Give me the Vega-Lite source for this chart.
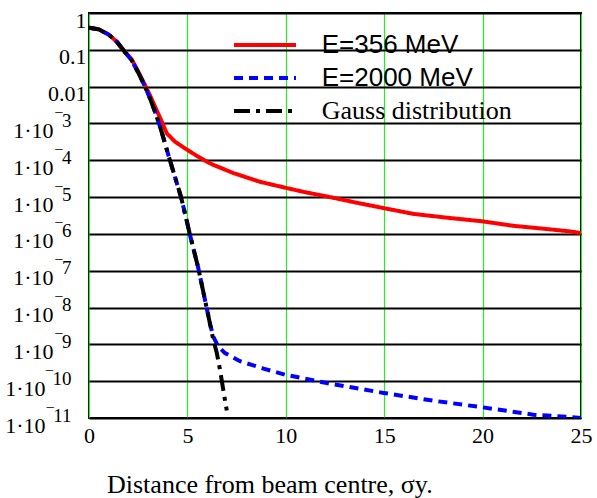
{
  "$schema": "https://vega.github.io/schema/vega-lite/v6.json",
  "width": 492,
  "height": 405,
  "autosize": {"type": "none"},
  "padding": {"left": 89, "top": 13, "right": 16, "bottom": 80},
  "background": "white",
  "config": {"view": {"stroke": "black", "strokeWidth": 2}, "font": "Liberation Serif"},
  "data": {"values": [
    {"series": "E=356 MeV", "x": 0, "y": 0.40},
    {"series": "E=356 MeV", "x": 0.5, "y": 0.36},
    {"series": "E=356 MeV", "x": 1.0, "y": 0.26},
    {"series": "E=356 MeV", "x": 1.41, "y": 0.166},
    {"series": "E=356 MeV", "x": 1.8, "y": 0.092},
    {"series": "E=356 MeV", "x": 2.17, "y": 0.055},
    {"series": "E=356 MeV", "x": 2.5, "y": 0.026},
    {"series": "E=356 MeV", "x": 2.81, "y": 0.012},
    {"series": "E=356 MeV", "x": 3.1, "y": 0.0058},
    {"series": "E=356 MeV", "x": 3.35, "y": 0.0029},
    {"series": "E=356 MeV", "x": 3.69, "y": 0.00115},
    {"series": "E=356 MeV", "x": 3.95, "y": 0.00054},
    {"series": "E=356 MeV", "x": 4.37, "y": 0.00032},
    {"series": "E=356 MeV", "x": 4.88, "y": 0.00021},
    {"series": "E=356 MeV", "x": 5.4, "y": 0.00014},
    {"series": "E=356 MeV", "x": 5.98, "y": 0.000092},
    {"series": "E=356 MeV", "x": 6.32, "y": 0.000075},
    {"series": "E=356 MeV", "x": 7.33, "y": 0.000045},
    {"series": "E=356 MeV", "x": 8.69, "y": 0.000026},
    {"series": "E=356 MeV", "x": 9.97, "y": 0.000018},
    {"series": "E=356 MeV", "x": 11.0, "y": 0.0000135},
    {"series": "E=356 MeV", "x": 12.25, "y": 0.00001},
    {"series": "E=356 MeV", "x": 13.5, "y": 0.0000072},
    {"series": "E=356 MeV", "x": 14.99, "y": 0.000005},
    {"series": "E=356 MeV", "x": 16.48, "y": 0.0000035},
    {"series": "E=356 MeV", "x": 18.2, "y": 0.00000275},
    {"series": "E=356 MeV", "x": 19.98, "y": 0.0000022},
    {"series": "E=356 MeV", "x": 21.56, "y": 0.00000166},
    {"series": "E=356 MeV", "x": 23.0, "y": 0.0000014},
    {"series": "E=356 MeV", "x": 24.44, "y": 0.00000117},
    {"series": "E=356 MeV", "x": 25, "y": 0.00000105},

    {"series": "E=2000 MeV", "x": 0, "y": 0.40},
    {"series": "E=2000 MeV", "x": 0.5, "y": 0.36},
    {"series": "E=2000 MeV", "x": 1.0, "y": 0.26},
    {"series": "E=2000 MeV", "x": 1.41, "y": 0.166},
    {"series": "E=2000 MeV", "x": 1.8, "y": 0.09},
    {"series": "E=2000 MeV", "x": 2.17, "y": 0.052},
    {"series": "E=2000 MeV", "x": 2.5, "y": 0.024},
    {"series": "E=2000 MeV", "x": 2.81, "y": 0.011},
    {"series": "E=2000 MeV", "x": 3.1, "y": 0.0048},
    {"series": "E=2000 MeV", "x": 3.35, "y": 0.0021},
    {"series": "E=2000 MeV", "x": 3.6, "y": 0.00085},
    {"series": "E=2000 MeV", "x": 3.86, "y": 0.00029},
    {"series": "E=2000 MeV", "x": 4.03, "y": 0.00014},
    {"series": "E=2000 MeV", "x": 4.35, "y": 0.000038},
    {"series": "E=2000 MeV", "x": 4.67, "y": 0.0000103},
    {"series": "E=2000 MeV", "x": 4.9, "y": 0.0000032},
    {"series": "E=2000 MeV", "x": 5.13, "y": 9.5e-7},
    {"series": "E=2000 MeV", "x": 5.35, "y": 3.2e-7},
    {"series": "E=2000 MeV", "x": 5.55, "y": 1.2e-7},
    {"series": "E=2000 MeV", "x": 5.73, "y": 4.2e-8},
    {"series": "E=2000 MeV", "x": 5.98, "y": 9.7e-9},
    {"series": "E=2000 MeV", "x": 6.15, "y": 3.6e-9},
    {"series": "E=2000 MeV", "x": 6.32, "y": 1.6e-9},
    {"series": "E=2000 MeV", "x": 6.57, "y": 8.7e-10},
    {"series": "E=2000 MeV", "x": 6.91, "y": 5.8e-10},
    {"series": "E=2000 MeV", "x": 7.67, "y": 3.5e-10},
    {"series": "E=2000 MeV", "x": 8.86, "y": 2.2e-10},
    {"series": "E=2000 MeV", "x": 9.96, "y": 1.5e-10},
    {"series": "E=2000 MeV", "x": 12.08, "y": 8.9e-11},
    {"series": "E=2000 MeV", "x": 14.97, "y": 4.8e-11},
    {"series": "E=2000 MeV", "x": 17.5, "y": 2.95e-11},
    {"series": "E=2000 MeV", "x": 20.0, "y": 1.95e-11},
    {"series": "E=2000 MeV", "x": 22.58, "y": 1.23e-11},
    {"series": "E=2000 MeV", "x": 24.4, "y": 1.07e-11},
    {"series": "E=2000 MeV", "x": 25, "y": 1.0e-11},

    {"series": "Gauss distribution", "x": 0, "y": 0.40},
    {"series": "Gauss distribution", "x": 0.5, "y": 0.36},
    {"series": "Gauss distribution", "x": 1.0, "y": 0.26},
    {"series": "Gauss distribution", "x": 1.41, "y": 0.166},
    {"series": "Gauss distribution", "x": 1.8, "y": 0.09},
    {"series": "Gauss distribution", "x": 2.17, "y": 0.052},
    {"series": "Gauss distribution", "x": 2.5, "y": 0.024},
    {"series": "Gauss distribution", "x": 2.81, "y": 0.011},
    {"series": "Gauss distribution", "x": 3.1, "y": 0.0048},
    {"series": "Gauss distribution", "x": 3.35, "y": 0.0021},
    {"series": "Gauss distribution", "x": 3.6, "y": 0.00085},
    {"series": "Gauss distribution", "x": 3.86, "y": 0.00029},
    {"series": "Gauss distribution", "x": 4.03, "y": 0.00014},
    {"series": "Gauss distribution", "x": 4.35, "y": 0.000038},
    {"series": "Gauss distribution", "x": 4.67, "y": 0.0000103},
    {"series": "Gauss distribution", "x": 4.9, "y": 0.0000032},
    {"series": "Gauss distribution", "x": 5.13, "y": 9.5e-7},
    {"series": "Gauss distribution", "x": 5.35, "y": 3.2e-7},
    {"series": "Gauss distribution", "x": 5.55, "y": 1.2e-7},
    {"series": "Gauss distribution", "x": 5.73, "y": 4.2e-8},
    {"series": "Gauss distribution", "x": 5.98, "y": 9.7e-9},
    {"series": "Gauss distribution", "x": 6.15, "y": 3.6e-9},
    {"series": "Gauss distribution", "x": 6.32, "y": 1.3e-9},
    {"series": "Gauss distribution", "x": 6.49, "y": 6.0e-10},
    {"series": "Gauss distribution", "x": 6.66, "y": 2.0e-10},
    {"series": "Gauss distribution", "x": 6.83, "y": 5.5e-11},
    {"series": "Gauss distribution", "x": 7.0, "y": 1.6e-11}
  ]},
  "encoding": {
    "x": {
      "field": "x", "type": "quantitative",
      "scale": {"domain": [0, 25], "nice": false, "zero": false},
      "axis": {
        "values": [0, 5, 10, 15, 20, 25],
        "grid": true, "gridColor": "#22ee22", "gridWidth": 1.2, "gridOpacity": 1,
        "domain": false, "ticks": false,
        "labelFont": "Liberation Serif", "labelFontSize": 22, "labelColor": "black",
        "labelPadding": 7, "labelFlush": false, "labelOverlap": false,
        "title": "Distance from beam centre, σy.",
        "titleFont": "Liberation Serif", "titleFontSize": 26, "titleFontWeight": "normal",
        "titleColor": "black", "titleX": 17.5, "titleY": 74, "titleAlign": "left",
        "titleBaseline": "alphabetic", "titleAnchor": "start"
      }
    },
    "color": {
      "field": "series", "type": "nominal",
      "scale": {"domain": ["E=356 MeV", "E=2000 MeV", "Gauss distribution"], "range": ["#ff0000", "#0000ff", "#000000"]},
      "legend": {
        "orient": "none", "legendX": 163, "legendY": 19, "title": null,
        "symbolType": "M-4,0H4", "symbolSize": 240,
        "labelFontSize": 26, "labelOffset": 43.7, "rowPadding": 7, "padding": 0,
        "labelColor": "black", "labelFont": "Liberation Sans", "labelLimit": 400,
        "encode": {
          "labels": {"update": {"font": {"signal": "datum.label === 'Gauss distribution' ? 'Liberation Serif' : 'Liberation Sans'"}}},
          "symbols": {"update": {"strokeWidth": {"signal": "datum.value === 'Gauss distribution' ? 5.5 : 4"}}}
        }
      }
    },
    "strokeDash": {
      "field": "series", "type": "nominal",
      "scale": {"domain": ["E=356 MeV", "E=2000 MeV", "Gauss distribution"], "range": [[1, 0], [9, 6], [16, 6, 4, 6]]}
    },
    "strokeWidth": {
      "field": "series", "type": "nominal",
      "scale": {"domain": ["E=356 MeV", "E=2000 MeV", "Gauss distribution"], "range": [4, 4, 5.5]}
    }
  },
  "resolve": {"axis": {"y": "independent"}},
  "layer": [
    {
      "transform": [{"filter": "datum.series === 'E=356 MeV'"}],
      "mark": {"type": "line", "clip": true},
      "encoding": {
        "y": {
          "field": "y", "type": "quantitative",
          "scale": {"type": "log", "domain": [1e-11, 1], "nice": false},
          "axis": {
            "orient": "left",
            "values": [1, 0.1, 0.01, 0.001, 0.0001, 0.00001, 0.000001, 1e-7, 1e-8, 1e-9, 1e-10, 1e-11],
            "grid": true, "gridColor": "black", "gridWidth": 1.8, "gridOpacity": 1,
            "domain": false, "ticks": false, "title": null,
            "labelFont": "Liberation Serif", "labelFontSize": 22, "labelColor": "black",
            "labelPadding": {"condition": [{"test": "datum.value < 5e-10", "value": 44}, {"test": "datum.value < 0.005", "value": 36}], "value": 3},
            "labelBaseline": "top", "labelOffset": -3, "labelFlush": false, "labelOverlap": false,
            "labelExpr": "datum.value > 0.5 ? '1' : datum.value > 0.05 ? '0.1' : datum.value > 0.005 ? '0.01' : '1·10'"
          }
        }
      }
    },
    {
      "transform": [{"filter": "datum.series === 'E=2000 MeV'"}],
      "mark": {"type": "line", "clip": true},
      "encoding": {
        "y": {"field": "y", "type": "quantitative", "axis": null}
      }
    },
    {
      "transform": [{"filter": "datum.series === 'Gauss distribution'"}],
      "mark": {"type": "line", "clip": true},
      "encoding": {
        "y": {
          "field": "y", "type": "quantitative",
          "axis": {
            "orient": "left",
            "values": [0.001, 0.0001, 0.00001, 0.000001, 1e-7, 1e-8, 1e-9, 1e-10, 1e-11],
            "grid": false, "domain": false, "ticks": false, "title": null,
            "labelFont": "Liberation Serif", "labelFontSize": 19, "labelColor": "black",
            "labelPadding": 18, "labelAlign": "right", "labelBaseline": "alphabetic", "labelOffset": 3,
            "labelFlush": false, "labelOverlap": false,
            "labelExpr": "'‾' + round(-log(datum.value)/LN10)"
          }
        }
      }
    }
  ]
}
